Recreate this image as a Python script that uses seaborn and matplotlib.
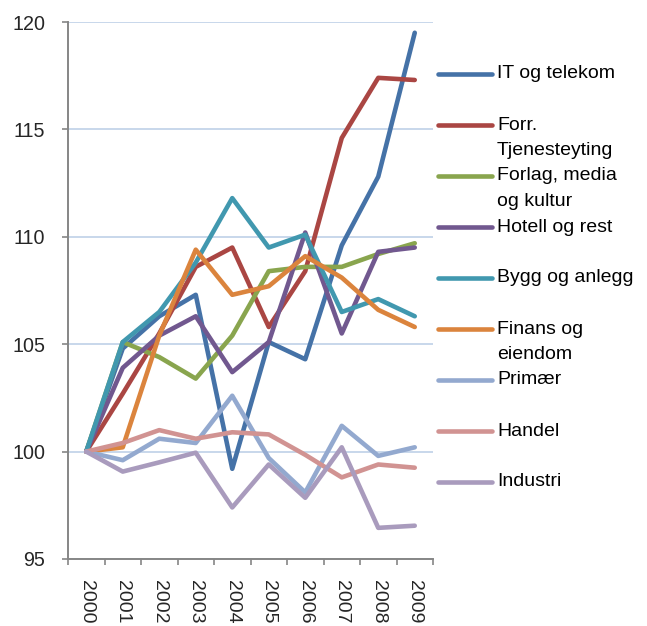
import pandas as pd
import numpy as np
import matplotlib
matplotlib.use("Agg")
import matplotlib.pyplot as plt
from matplotlib.lines import Line2D
import seaborn as sns

# data (index, 2000 = 100)
years = ['2000', '2001', '2002', '2003', '2004', '2005', '2006', '2007', '2008', '2009']
series_names = ['IT og telekom', 'Forr.\nTjenesteyting', 'Forlag, media\nog kultur',
                'Hotell og rest', 'Bygg og anlegg', 'Finans og\neiendom', 'Primær',
                'Handel', 'Industri']
it_telekom = [100, 104.8, 106.3, 107.3, 99.2, 105.1, 104.3, 109.6, 112.8, 119.5]
forr_tjenester = [100, 102.7, 105.5, 108.6, 109.5, 105.8, 108.4, 114.6, 117.4, 117.3]
forlag_media = [100, 105.1, 104.4, 103.4, 105.4, 108.4, 108.6, 108.6, 109.2, 109.7]
hotell_rest = [100, 103.9, 105.4, 106.3, 103.7, 105.1, 110.2, 105.5, 109.3, 109.5]
bygg_anlegg = [100, 105.1, 106.5, 108.8, 111.8, 109.5, 110.1, 106.5, 107.1, 106.3]
finans_eiendom = [100, 100.2, 105.4, 109.4, 107.3, 107.7, 109.1, 108.1, 106.6, 105.8]
primaer = [100, 99.6, 100.6, 100.4, 102.6, 99.7, 98.1, 101.2, 99.8, 100.2]
handel = [100, 100.4, 101.0, 100.6, 100.9, 100.8, 99.85, 98.8, 99.4, 99.25]
industri = [100, 99.07, 99.5, 99.95, 97.4, 99.4, 97.85, 100.2, 96.45, 96.55]

all_values = [it_telekom, forr_tjenester, forlag_media, hotell_rest, bygg_anlegg,
              finans_eiendom, primaer, handel, industri]
colors = ['#4572A7', '#AA4643', '#89A54E', '#71588F', '#4198AF',
          '#DB843D', '#93A9CF', '#D19392', '#A99BBD']

# long format for seaborn
rows = []
for name, vals in zip(series_names, all_values):
    for i, v in enumerate(vals):
        rows.append({'pos': i, 'series': name, 'value': v})
df = pd.DataFrame(rows)

sns.set_style('white')
plt.rcParams['font.family'] = ['Liberation Sans', 'DejaVu Sans']

fig = plt.figure(figsize=(6.47, 6.26), dpi=100)
ax = fig.add_axes([68 / 647, 1 - 559 / 626, 365 / 647, 537 / 626])

sns.lineplot(data=df, x='pos', y='value', hue='series', hue_order=series_names,
             palette=colors, linewidth=3.3, legend=False, ax=ax,
             solid_capstyle='round', solid_joinstyle='round')

ax.set_xlim(-0.5, 9.5)
ax.set_ylim(95, 120)
ax.set_yticks([95, 100, 105, 110, 115, 120])
ax.set_xticks(range(len(years)))
ax.set_xticklabels(years, rotation=270, fontsize=14)
ax.set_xticks(np.arange(-0.5, 10, 1), minor=True)
ax.tick_params(axis='y', labelsize=14.2, length=4.3, width=1.2, color='#868686',
               direction='out', pad=12, left=True)
ax.tick_params(axis='x', which='major', length=0, pad=15)
ax.tick_params(axis='x', which='minor', length=4.3, width=1.2, color='#868686',
               direction='out', bottom=True)
ax.set_xlabel('')
ax.set_ylabel('')

ax.grid(axis='y', color='#B9CDE5', linewidth=1.1)
ax.grid(axis='x', visible=False)
ax.set_axisbelow(True)
for side in ['top', 'right']:
    ax.spines[side].set_visible(False)
for side in ['left', 'bottom']:
    ax.spines[side].set_color('#868686')
    ax.spines[side].set_linewidth(1.4)

# legend drawn like the original, handle level with first text line
W, H = 647, 626
y0, step, line_gap = 74, 51, 25.7
for k, (name, col) in enumerate(zip(series_names, colors)):
    py = y0 + k * step
    fig.add_artist(Line2D([438 / W, 492 / W], [1 - py / H, 1 - py / H], color=col,
                          linewidth=3.3, solid_capstyle='round'))
    for j, part in enumerate(name.split('\n')):
        fig.text(497 / W, 1 - (py + j * line_gap) / H, part, fontsize=14,
                 va='center', ha='left', color='black')

fig.savefig('out.png', dpi=100)
